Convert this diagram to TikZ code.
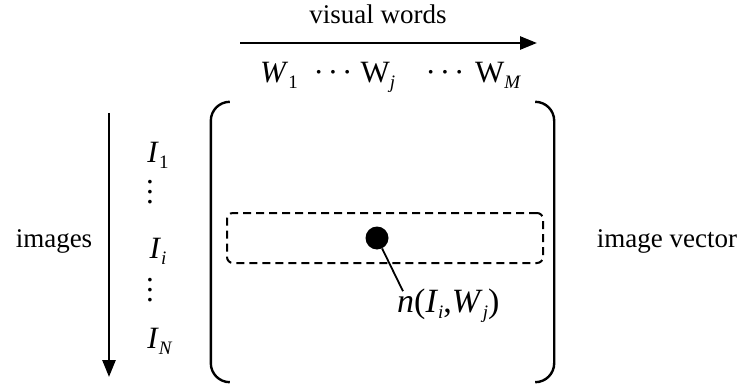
\documentclass[tikz,border=0pt]{standalone}
\usepackage{fontspec}
\setmainfont{Liberation Serif}
\usetikzlibrary{arrows.meta,positioning}
\newcommand{\lowsub}[1]{\raisebox{-6pt}{\fontsize{19}{19}\selectfont #1}}
\newcommand{\hdts}{·\hspace{4pt}·\hspace{4pt}·}
\newcommand{\vdts}{\vbox{\baselineskip=10pt\lineskiplimit=0pt\hbox{.}\hbox{.}\hbox{.}}}

\begin{document}
\begin{tikzpicture}[
 x=1pt, y=-1pt,
 txt/.style={font=\fontsize{27}{32}\selectfont, inner sep=0pt, anchor=base},
 sym/.style={font=\fontsize{31}{36}\selectfont, inner sep=0pt, anchor=base},
 axis/.style={-{Triangle[length=17pt,width=13pt]}, line width=2.6pt},
 brk/.style={line width=2.4pt, rounded corners=19pt},
 rowbox/.style={draw, dash pattern=on 8pt off 5pt, line width=2pt, rounded corners=6pt, minimum width=316pt, minimum height=50pt, inner sep=0pt},
 hit/.style={circle, fill, inner sep=0pt, minimum size=23pt}
]
\useasboundingbox (0,0) rectangle (739,385);

% visual words axis
\coordinate (wl) at (240,43);
\coordinate (wr) at (537,43);
\draw[axis] (wl) -- (wr);
\node[txt] (vw) at (378,24) {visual words};
\node[sym] (w1) at (279,83) {\textit{W}\lowsub{1}};
\node[sym] (d1) at (333,83) {\hdts};
\node[sym] (wj) at (378,83) {W\lowsub{\textit{j}}};
\node[sym] (d2) at (445,83) {\hdts};
\node[sym] (wm) at (498,83) {W\lowsub{\textit{M}}};

% images axis
\coordinate (it) at (109,113);
\coordinate (ib) at (109,377);
\draw[axis] (it) -- (ib);
\node[txt] (img) at (54,247) {images};
\node[sym] (i1) at (158,162) {\textit{I}\lowsub{1}};
\node[sym, anchor=center] (v1) at (150,192) {\vdts};
\node[sym] (ii) at (158,258) {\textit{I}\lowsub{\textit{i}}};
\node[sym, anchor=center] (v2) at (150,290) {\vdts};
\node[sym] (in) at (160,348) {\textit{I}\lowsub{\textit{N}}};

% matrix
\node[minimum width=343pt, minimum height=280pt, inner sep=0pt] (mat) at (382.5,242) {};
\draw[brk] ([xshift=19pt]mat.north west) -- (mat.north west) -- (mat.south west) -- ([xshift=19pt]mat.south west);
\draw[brk] ([xshift=-19pt]mat.north east) -- (mat.north east) -- (mat.south east) -- ([xshift=-19pt]mat.south east);
\node[rowbox] (row) at (385,238) {};
\node[hit] (cell) at (377,238) {};
\node[sym, font=\fontsize{34}{40}\selectfont, anchor=base west] (cnt) at (397,312) {\textit{n}(\textit{I}\lowsub{\textit{i}},\textit{W}\lowsub{\textit{j}})};
\draw[line width=1.8pt] (cell) -- ([xshift=6pt,yshift=-3pt]cnt.north west);

\node[txt] (vec) at (667,247) {image vector};
\end{tikzpicture}
\end{document}
